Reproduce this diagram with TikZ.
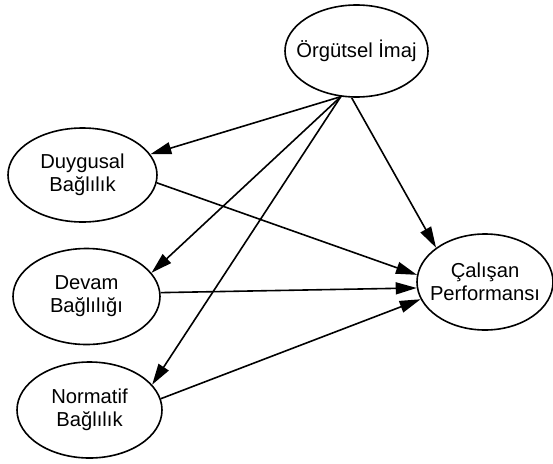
\documentclass[tikz,border=0pt]{standalone}
\usepackage{fontspec}
\setmainfont{Liberation Sans}
\usetikzlibrary{shapes.geometric,arrows.meta}
\begin{document}
\begin{tikzpicture}[x=1pt,y=-1pt,
  construct/.style={draw,ellipse,line width=1.6pt,inner xsep=-20pt,inner ysep=-10pt,
    align=center,font=\fontsize{20.2}{23}\selectfont},
  link/.style={line width=1.6pt,-{Triangle[length=21pt,width=12pt]}}]
\useasboundingbox (0,0) rectangle (553,463);
% constructs
\node[construct,minimum width=143pt,minimum height=92pt] (org) at (356.5,51) {Örgütsel İmaj};
\node[construct,minimum width=149pt,minimum height=94pt] (duy) at (82.5,175) {Duygusal\\Bağlılık};
\node[construct,minimum width=147pt,minimum height=96pt] (dev) at (86.5,296.5) {Devam\\Bağlılığı};
\node[construct,minimum width=145pt,minimum height=96pt] (nor) at (89.5,410) {Normatif\\Bağlılık};
\node[construct,minimum width=136pt,minimum height=96pt] (cal) at (485,282) {Çalışan\\Performansı};
% paths from image
\draw[link] (org.251) -- (duy.17);
\draw[link] (org.251) -- (dev.20);
\draw[link] (org.251) -- (nor.22);
\draw[link] (org.264) -- (cal.145);
% paths to performance
\draw[link] (duy.354) -- (cal.174);
\draw[link] (dev.3) -- (cal.185);
\draw[link] (nor.9) -- (cal.195);
\end{tikzpicture}
\end{document}
